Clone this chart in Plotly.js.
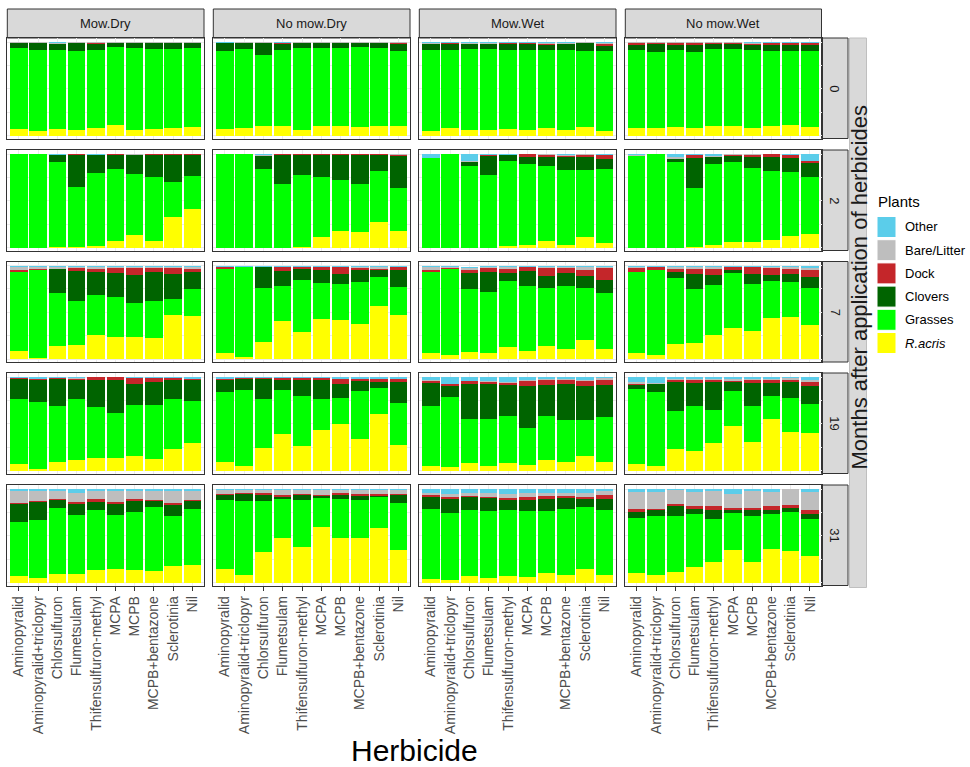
<!DOCTYPE html>
<html>
<head>
<meta charset="utf-8">
<script src="https://cdn.plot.ly/plotly-3.0.1.min.js"></script>
<style>html,body{margin:0;padding:0;background:#fff;}#chart{width:970px;height:767px;}</style>
</head>
<body>
<div id="chart"></div>
<script>
// ---------------- DATA ----------------
const herbicides = ['Aminopyralid','Aminopyralid+triclopyr','Chlorsulfuron','Flumetsulam','Thifensulfuron-methyl','MCPA','MCPB','MCPB+bentazone','Sclerotinia','Nil'];
// stacking order, bottom -> top
const plants = ['R.acris','Grasses','Clovers','Dock','Bare/Litter','Other'];
const plantColors = ['#FFFF00','#00FF00','#006400','#C4262A','#BEBEBE','#5BCDEA'];
const treatments = ['Mow.Dry','No mow.Dry','Mow.Wet','No mow.Wet'];
const months = ['0','2','7','19','31'];

// percent cover per herbicide: [R.acris, Grasses, Clovers, Dock, Bare/Litter, Other]
const MD0 = [[7.4,86.2,5,0.8,0.3,0.3],[5.3,86.5,6.8,0.7,0.3,0.4],[7.4,84.4,6.1,0.3,0.8,1],[5.7,85.1,7.8,0.4,0.5,0.5],[7.8,84,6,1.4,0.3,0.5],[11,84,3.6,0.4,0.5,0.5],[6,87.3,5.3,0.4,0.5,0.5],[6.7,86.2,5.7,0.7,0.3,0.4],[8.2,84,6.4,0.4,0.5,0.5],[9.6,83.7,5.3,0.4,0.5,0.5]];
const ND0 = [[6.7,83.7,8.2,0.3,0.3,0.8],[7.8,85.1,5.7,0.4,0.5,0.5],[9.9,75.9,12.8,0.4,0.5,0.5],[10.3,81.5,6.4,0.6,0.6,0.6],[5.7,88.3,4.6,0.4,0.5,0.5],[10.3,83.3,5,0.4,0.5,0.5],[9.9,83.7,5,0.4,0.5,0.5],[9.2,85.1,4.3,0.4,0.5,0.5],[10.3,83,5.3,0.4,0.5,0.5],[9.9,80.1,7.8,1.4,0.4,0.4]];
const MW0 = [[5,86.1,6.4,0.5,0.5,1.5],[8.2,82.9,6.4,1,0.5,1],[5.7,86.5,5.3,0.5,0.5,1.5],[5.7,87.2,4.6,0.5,0.5,1.5],[7,84.1,6.4,1,0.5,1],[5.7,85.8,6,1,0.5,1],[7.8,83.7,5,1.8,0.7,1],[6,85.8,5.7,0.5,0.5,1.5],[9.2,81.6,7.8,0.5,0.4,0.5],[5.3,84.7,5.4,2.5,1,1.1]];
const NW0 = [[8.5,83,5.7,1.7,0.6,0.5],[7.8,81.2,9.2,1,0.4,0.4],[9.6,81.9,5.7,1.8,0.5,0.5],[8.2,81.2,7.8,1.8,0.5,0.5],[9.9,82.3,5.3,1.4,0.6,0.5],[10.3,81.9,5.3,1.4,0.6,0.5],[8.2,83.3,5.7,1,1,0.8],[10.3,80.5,6.4,1.4,0.7,0.7],[11.3,79.5,6.4,1.4,0.7,0.7],[9.6,81.2,6.4,1.4,0.7,0.7]];

const MD2 = [[0,99.5,0.3,0,0,0.2],[0,99.5,0.3,0,0,0.2],[0.3,90.8,7.5,0,0,1.4],[0.7,64.5,34,0.3,0.2,0.3],[1.8,78,19.1,0,0.3,0.8],[6.7,77.3,15,0.7,0.2,0.1],[13.5,65.2,20.2,0.5,0.3,0.3],[6.7,68.8,23.4,0.7,0.2,0.2],[32.3,37.9,29.1,0.3,0.2,0.2],[41.1,35.1,22.7,0.8,0.2,0.1]];
const ND2 = [[0,99.5,0.3,0,0,0.2],[0,99.5,0.3,0,0,0.2],[0,84,14.2,0,0.5,1.3],[0,68,31,0.7,0.2,0.1],[1,76.7,21.6,0.3,0.2,0.2],[11.7,64.2,23.4,0.3,0.2,0.2],[17.7,54.3,26.6,1,0.2,0.2],[16.7,51.4,31,0.5,0.2,0.2],[27.7,54.6,17.1,0.2,0.2,0.2],[18.1,45.4,34.7,1,0.4,0.4]];
const MW2 = [[0,95.4,0,0,0.6,4],[0,99.5,0,0,0.2,0.3],[0,87.6,3.9,0,1,7.5],[0,77.7,19.8,1,0.5,1],[1.8,90.8,6,0.3,0.4,0.7],[2.8,86.9,7.1,2.8,0.2,0.2],[7.4,80.2,8.9,2.8,0.4,0.3],[2.8,80.5,13.5,1.4,0.9,0.9],[11,72.3,13.5,2.1,0.6,0.5],[4.6,79.1,11,4.3,0,1]];
const NW2 = [[0,98,0,0,0.5,1.5],[0,99.5,0,0,0.3,0.2],[0,91.1,3.2,0,2.5,3.2],[0.5,63,31.9,3.2,0.4,1],[2.5,86.9,7.8,0,0.8,2],[6.4,85.1,6,1.4,0.6,0.5],[6,79.5,11.3,2.5,0.4,0.3],[7.8,74.5,14.5,3.2,0,0],[12.8,67.7,15.6,2.8,0.5,0.6],[14.2,61,15.2,2.5,0,7.1]];

const MD7 = [[8.9,84.7,0,1.1,3.2,2.1],[1.4,94,0,0.7,2.5,1.4],[13.8,57.1,25.6,0,2.1,1.4],[15.2,47.2,31.6,3.2,1.4,1.4],[25.9,42.9,23.8,3.5,2.1,1.8],[23.8,42.2,25.8,5.4,1.4,1.4],[23.4,36.2,29.8,7.8,1.4,1.4],[23,38.7,30.9,4.9,1.1,1.4],[47.5,16.7,26.6,6.4,1.4,1.4],[46.5,28.3,18.1,3.2,2.1,1.8]];
const ND7 = [[6.7,90.1,0,1.4,0,1.8],[2.5,95.7,0,0.3,0,1.5],[18.4,57.5,22,0,0.7,1.4],[40.8,36.9,16.3,4.2,0.4,1.4],[28.4,55.6,12.5,2.1,0,1.4],[42.9,38.7,14.1,3.2,0,1.1],[41.8,38.3,11,7.8,0,1.1],[37.6,44.7,12.7,2.5,1.1,1.4],[56.4,31.5,7.1,1.1,2.5,1.4],[47.5,29.8,18.1,3.5,0,1.1]];
const MW7 = [[6,86.6,0,3.1,2.2,2.1],[3.9,92.2,0,1.1,1.4,1.4],[7.1,67.4,17.7,3.5,1.2,1],[6.7,65.3,21.3,4.2,1.1,1.4],[13.1,70.2,8.5,4.7,2.1,1.4],[8.2,69.8,16,4.6,0,1.4],[13.8,61.7,13.2,8.8,1.1,1.4],[10.3,67.4,14.5,5,1.4,1.4],[20.6,54.9,12.8,7.4,2.9,1.4],[10.3,60.6,13.9,12.4,1.4,1.4]];
const NW7 = [[6.7,86.9,0,3.6,1.4,1.4],[4.6,91.1,0,2.5,0,1.8],[15.6,71.3,6,3.6,2.1,1.4],[17,58.2,15.2,6.4,1.8,1.4],[25.5,53.6,10.3,6.7,2.5,1.4],[33,58.5,3.2,3.2,0.7,1.4],[30.1,50.4,10.3,7.4,0,1.8],[44.3,39,6.1,8.1,1.1,1.4],[44.7,37.6,8.5,5.7,2.1,1.4],[36.5,39.7,11,7.8,2.5,2.5]];

const MD19 = [[6.8,69.6,21.8,0.4,0,1.4],[1.4,71.5,24.2,0.5,0.4,2],[9.6,59,29.6,0.7,0.4,0.7],[11.4,64.7,21,0.7,0.8,1.4],[13.6,53.9,29.3,2.8,0,0.4],[13.6,48.2,35.3,2.5,0,0.4],[15,55,22.1,6.5,0,1.4],[12.1,57.5,25,4.7,0,0.7],[22.5,53.9,20.7,2.2,0,0.7],[28.9,45.4,22.1,1.8,0,1.8]];
const ND19 = [[8.6,75,13.2,1.4,0,1.8],[4.3,81.8,12.1,0.4,0,1.4],[23.9,52.5,21.8,0.7,0,1.1],[39.3,46.4,10.7,2.2,0,1.4],[26.4,53.2,17.5,1.8,0,1.1],[42.9,33.5,20,2.2,0,1.4],[50,27.5,15.4,5.3,0,1.8],[33.2,51.8,10.7,2.5,0,1.8],[60.4,28.2,6,3.3,0,2.1],[26.8,45.7,22.1,2.9,0,2.5]];
const MW19 = [[4.3,65,24.6,1.8,0.7,3.6],[3.6,75,12.1,1.8,0,7.5],[7.9,46.7,38.3,2.5,0.7,3.9],[4.3,51.1,37.5,1.7,1,4.4],[8.2,49.7,33.9,2.1,1,5.1],[6.4,39.3,44.7,5,1,3.6],[11.4,46.5,33.5,5,1,2.6],[8.9,45.4,37.8,4.7,0.7,2.5],[15.4,38.9,36.4,5,0.7,3.6],[9.3,47.5,34.3,6,1.5,1.4]];
const NW19 = [[7.1,79.7,5,1,1.8,5.4],[4.6,79,8.5,0.7,1.2,6],[23.2,40.4,30.7,2.1,1.1,2.5],[20.4,48.2,25,2.9,1,2.5],[29.6,35.4,29.6,1.8,1.6,2],[47.5,37.5,9.6,1.4,1.6,2.4],[30,38.9,24.7,3.6,1,1.8],[54.6,25.4,13.9,2.9,1.4,1.8],[40.7,36.4,17.2,2.9,1.4,1.4],[40,31.1,19.3,4.6,2,3]];

const MD31 = [[7.5,57.3,18.8,1,13.3,2.1],[5.3,61.2,20,1,10.4,2.1],[9.6,69.8,9.2,0.7,8.9,1.8],[8.9,63.3,12.1,1.4,10.4,3.9],[13.2,64.4,8.9,2.8,8.9,1.8],[14.6,57.6,11.8,2.5,11.4,2.1],[13.9,61.2,12.4,1.4,9,2.1],[12.5,67.9,6.4,1.4,10,1.8],[17.8,53.4,12.1,1.4,13.2,2.1],[18.9,59.7,8.2,1.4,10,1.8]];
const ND31 = [[14.2,74.4,5,1.4,4,1],[8.5,79,6.8,1,3.7,1],[32.7,54.8,6.5,1.4,3.6,1],[47.7,41.6,2.5,1.8,5.4,1],[38.1,50.2,5.3,1.4,4,1],[59.4,31,1.8,1.8,5,1],[47.7,41.6,4.6,1.4,3.7,1],[48,39.9,5,1.4,4.7,1],[58.4,33.1,1,1.8,4.7,1],[34.9,50.5,7.8,1.8,4,1]];
const MW31 = [[3.9,75.1,12.8,1.8,2.1,4.3],[2.8,71.6,15.3,1.4,3.9,5],[6.8,71.1,13.2,1.8,2.8,4.3],[4.3,72.2,13.9,1.4,3.6,4.6],[7.5,70.4,10.7,1.4,5,5],[6,70.9,11.4,2.8,4.3,4.6],[10.7,65.5,13.5,3.2,3.2,3.9],[8.2,70.1,12.1,2.5,2.8,4.3],[14.2,66.6,8.5,1.8,4.6,4.3],[8.2,69.7,11.4,4.6,4,2.1]];
const NW31 = [[10,59.4,6,2.8,18.2,3.6],[8.2,63.3,5.7,1.8,17.4,3.6],[11.7,59.5,10.3,2.1,15.4,1],[16.7,57,4.9,3.6,14.2,3.6],[22.4,45.2,10,3.9,16.7,1.8],[34.9,39.5,3.5,2.1,14.3,5.7],[22.1,49.4,6.4,1.8,18.5,1.8],[35.9,37.1,4.9,3.6,14.9,3.6],[33.5,41.9,4.7,3.2,16.2,0.5],[28.8,39.2,5.3,4.6,18.5,3.6]];

// rows = months, columns = treatments
const facetGrid = [
  [MD0, ND0, MW0, NW0],
  [MD2, ND2, MW2, NW2],
  [MD7, ND7, MW7, NW7],
  [MD19, ND19, MW19, NW19],
  [MD31, ND31, MW31, NW31]
];

// ---------------- LAYOUT GEOMETRY (pixels) ----------------
const W = 970, H = 767;
const colX = [[7.3,204],[213.3,410],[419.3,616],[625.3,821.5]];
const rowTop = [38,150,261.5,373,485];
const panelH = 100.5;
const px = x => x / W;
const py = y => 1 - y / H;
const FONT = 'Liberation Sans, Arial, Helvetica, sans-serif';

const traces = [];
const layout = {
  width: W, height: H,
  margin: {l:0, r:0, t:0, b:0},
  paper_bgcolor: '#ffffff', plot_bgcolor: '#ffffff',
  barmode: 'stack', bargap: 0.1,
  showlegend: false,
  font: {family: FONT, color: '#1A1A1A'},
  shapes: [], annotations: []
};

for (let r = 0; r < months.length; r++) {
  for (let c = 0; c < treatments.length; c++) {
    const i = r * treatments.length + c + 1;
    const xs = i === 1 ? '' : String(i);
    const facet = facetGrid[r][c];
    for (let k = 0; k < plants.length; k++) {
      traces.push({
        type: 'bar', name: plants[k],
        x: herbicides, y: facet.map(row => row[k] / 100),
        xaxis: 'x' + xs, yaxis: 'y' + xs,
        marker: {color: plantColors[k], line: {width: 0}},
        hoverinfo: 'x+y+name', showlegend: false
      });
    }
    const bottomRow = r === months.length - 1;
    layout['xaxis' + xs] = {
      domain: [px(colX[c][0]), px(colX[c][1])], anchor: 'y' + xs,
      type: 'category', categoryorder: 'array', categoryarray: herbicides,
      range: [-0.6, 9.6], fixedrange: true,
      showgrid: true, gridcolor: '#EBEBEB', gridwidth: 1, zeroline: false,
      showline: true, mirror: true, linecolor: '#333333', linewidth: 1,
      ticks: bottomRow ? 'outside' : '', ticklen: 4, tickcolor: '#333333', tickwidth: 1,
      showticklabels: bottomRow, tickangle: -90,
      tickfont: {family: FONT, size: 14, color: '#4D4D4D'}
    };
    layout['yaxis' + xs] = {
      domain: [py(rowTop[r] + panelH), py(rowTop[r])], anchor: 'x' + xs,
      range: [-0.032, 1.043], fixedrange: true,
      tickvals: [0, 0.25, 0.5, 0.75, 1],
      showgrid: true, gridcolor: '#EBEBEB', zeroline: false,
      showline: true, mirror: true, linecolor: '#333333', linewidth: 1,
      ticks: '', showticklabels: false
    };
  }
}

// top strips
const stripFill = '#D9D9D9', stripLine = '#333333';
treatments.forEach((t, c) => {
  layout.shapes.push({type:'rect', xref:'paper', yref:'paper',
    x0: px(colX[c][0]), x1: px(colX[c][1]), y0: py(rowTop[0]), y1: py(9),
    fillcolor: stripFill, line: {color: stripLine, width: 1}, layer: 'below'});
  layout.annotations.push({xref:'paper', yref:'paper', x: px((colX[c][0] + colX[c][1]) / 2), y: py((9 + rowTop[0]) / 2),
    text: t, showarrow: false, xanchor: 'center', yanchor: 'middle',
    font: {family: FONT, size: 13, color: '#1A1A1A'}});
});
// right strips
months.forEach((m, r) => {
  layout.shapes.push({type:'rect', xref:'paper', yref:'paper',
    x0: px(821.5), x1: px(848), y0: py(rowTop[r] + panelH), y1: py(rowTop[r]),
    fillcolor: stripFill, line: {color: stripLine, width: 1}, layer: 'below'});
  layout.annotations.push({xref:'paper', yref:'paper', x: px(835), y: py(rowTop[r] + panelH / 2),
    text: m, showarrow: false, textangle: 90, xanchor: 'center', yanchor: 'middle',
    font: {family: FONT, size: 13, color: '#1A1A1A'}});
});
// outer strip
layout.shapes.push({type:'rect', xref:'paper', yref:'paper',
  x0: px(849.5), x1: px(866.5), y0: py(rowTop[4] + panelH + 2), y1: py(rowTop[0]),
  fillcolor: stripFill, line: {color: '#BFBFBF', width: 1}, layer: 'below'});
layout.annotations.push({xref:'paper', yref:'paper', x: px(858.5), y: py(288),
  text: 'Months after application of herbicides', showarrow: false, textangle: -90,
  xanchor: 'center', yanchor: 'middle', font: {family: FONT, size: 22, color: '#1A1A1A'}});

// x-axis title
layout.annotations.push({xref:'paper', yref:'paper', x: px((colX[0][0] + colX[3][1]) / 2), y: py(750),
  text: 'Herbicide', showarrow: false, xanchor: 'center', yanchor: 'middle',
  font: {family: FONT, size: 30, color: '#000000'}});

// legend (top -> bottom: reverse stacking order)
layout.annotations.push({xref:'paper', yref:'paper', x: px(876), y: py(201), text: 'Plants',
  showarrow: false, xanchor: 'left', yanchor: 'middle', font: {family: FONT, size: 15, color: '#000000'}});
const legOrder = plants.map((p, k) => k).reverse();
legOrder.forEach((k, j) => {
  const cy = 227 + j * 23.2;
  layout.shapes.push({type:'rect', xref:'paper', yref:'paper',
    x0: px(877), x1: px(896), y0: py(cy + 10.5), y1: py(cy - 10.5),
    fillcolor: plantColors[k], line: {color: '#FFFFFF', width: 1}});
  layout.annotations.push({xref:'paper', yref:'paper', x: px(903), y: py(cy),
    text: plants[k] === 'R.acris' ? '<i>R.acris</i>' : plants[k], showarrow: false,
    xanchor: 'left', yanchor: 'middle', font: {family: FONT, size: 13, color: '#000000'}});
});

Plotly.newPlot('chart', traces, layout, {staticPlot: true, displayModeBar: false});
</script>
</body>
</html>
